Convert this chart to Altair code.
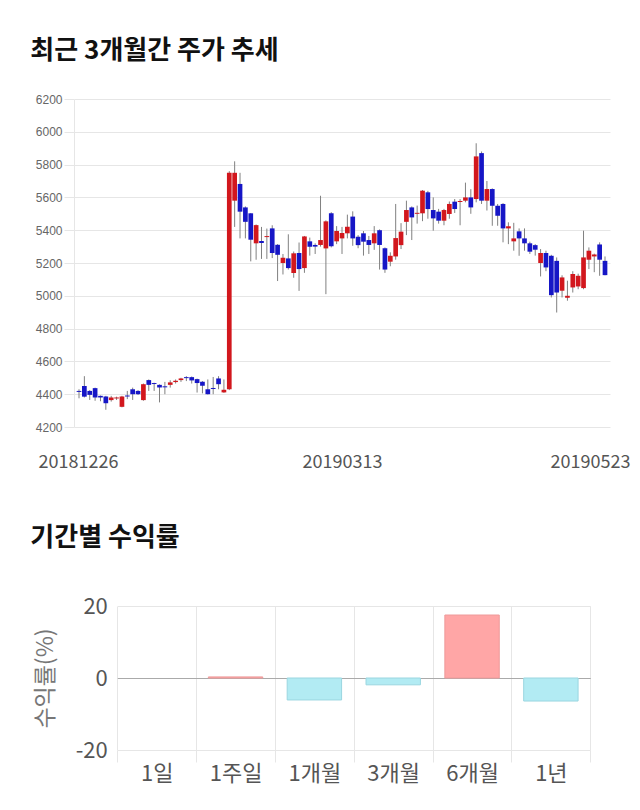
import altair as alt
import pandas as pd

# ---------------- data: candlestick (last ~5 months, daily) ----------------
opens = [4420, 4450, 4420, 4437, 4390, 4386, 4364, 4374, 4323, 4392,
         4430, 4420, 4364, 4486, 4468, 4457, 4448, 4457, 4474, 4486,
         4504, 4504, 4492, 4476, 4430, 4438, 4496, 4411, 4430, 5580,
         5682, 5539, 5503, 5320, 5334, 5358, 5411, 5311, 5200, 5228,
         5139, 5261, 5169, 5332, 5310, 5310, 5289, 5503, 5332, 5350,
         5381, 5483, 5360, 5381, 5340, 5320, 5400, 5290, 5208, 5240,
         5309, 5451, 5539, 5500, 5503, 5631, 5523, 5513, 5458, 5499,
         5574, 5572, 5580, 5600, 5590, 5870, 5580, 5651, 5549, 5560,
         5411, 5332, 5393, 5350, 5320, 5309, 5200, 5261, 5244, 5213,
         5031, 4988, 5051, 5057, 5047, 5220, 5240, 5313, 5213]
highs = [4430, 4510, 4425, 4440, 4392, 4390, 4390, 4385, 4390, 4420,
         4440, 4425, 4465, 4490, 4470, 4460, 4475, 4485, 4490, 4500,
         4510, 4508, 4495, 4480, 4490, 4505, 4510, 4490, 5760, 5820,
         5750, 5545, 5505, 5435, 5420, 5410, 5430, 5315, 5255, 5375,
         5270, 5325, 5365, 5355, 5320, 5610, 5460, 5510, 5425, 5420,
         5495, 5515, 5370, 5395, 5365, 5425, 5405, 5295, 5265, 5560,
         5443, 5580, 5545, 5550, 5645, 5640, 5600, 5530, 5530, 5575,
         5590, 5590, 5690, 5650, 5930, 5880, 5700, 5655, 5560, 5565,
         5448, 5445, 5411, 5411, 5330, 5315, 5285, 5275, 5250, 5234,
         5125, 5092, 5150, 5135, 5397, 5295, 5257, 5326, 5240]
lows = [4375, 4380, 4365, 4360, 4357, 4305, 4355, 4365, 4320, 4370,
        4365, 4395, 4360, 4420, 4420, 4350, 4400, 4440, 4465, 4475,
        4480, 4465, 4410, 4405, 4398, 4400, 4430, 4408, 4425, 5420,
        5350, 5350, 5210, 5220, 5225, 5225, 5230, 5090, 5130, 5160,
        5110, 5030, 5140, 5245, 5255, 5300, 5010, 5295, 5315, 5255,
        5350, 5305, 5290, 5245, 5255, 5280, 5160, 5140, 5180, 5220,
        5285, 5370, 5340, 5440, 5455, 5470, 5397, 5440, 5430, 5470,
        5505, 5430, 5570, 5500, 5570, 5560, 5520, 5427, 5427, 5326,
        5315, 5275, 5244, 5275, 5255, 5245, 5118, 5150, 4990, 4898,
        4990, 4970, 5020, 5040, 5040, 5163, 5144, 5122, 5125]
closes = [4414, 4385, 4396, 4380, 4380, 4345, 4380, 4380, 4386, 4386,
          4400, 4400, 4461, 4457, 4462, 4441, 4442, 4472, 4482, 4496,
          4498, 4484, 4468, 4451, 4400, 4432, 4461, 4427, 5750, 5750,
          5513, 5451, 5342, 5431, 5322, 5364, 5261, 5250, 5232, 5169,
          5259, 5163, 5362, 5299, 5300, 5340, 5454, 5302, 5395, 5383,
          5421, 5350, 5309, 5330, 5310, 5381, 5310, 5160, 5244, 5352,
          5391, 5523, 5478, 5506, 5641, 5529, 5472, 5458, 5523, 5560,
          5529, 5578, 5600, 5539, 5850, 5580, 5651, 5549, 5488, 5411,
          5424, 5350, 5350, 5320, 5269, 5281, 5261, 5173, 5004, 5020,
          5112, 5000, 5133, 5122, 5234, 5275, 5252, 5220, 5126]
x_tick_index = [0, 49, 98]
x_tick_labels = ["20181226", "20190313", "20190523"]
y_ticks = [4200, 4400, 4600, 4800, 5000, 5200, 5400, 5600, 5800, 6000, 6200]

# ---------------- data: period returns ----------------
periods = ["1일", "1주일", "1개월", "3개월", "6개월", "1년"]
returns = [0.0, 0.3, -6.1, -1.9, 17.5, -6.4]

RED, BLUE = "#D2171D", "#1616C6"
KFONT = "Noto Sans CJK KR"

df = pd.DataFrame({"i": list(range(len(opens))), "open": opens, "high": highs,
                   "low": lows, "close": closes})
df["dir"] = ["up" if c >= o else "down" for o, c in zip(opens, closes)]

label_expr = " : ".join(
    f"datum.value == {v} ? '{t}'" for v, t in zip(x_tick_index, x_tick_labels)
) + " : ''"

x_axis = alt.Axis(values=x_tick_index, labelExpr=label_expr, grid=False, ticks=False,
                  domain=False, labelPadding=26, labelFontSize=18, labelFont=KFONT,
                  labelColor="#555555", labelFlush=False, title=None,
                  labelOffset={"condition": [{"test": "datum.value == 0", "value": -1},
                                             {"test": "datum.value == 98", "value": -15}],
                               "value": 0})
y_axis = alt.Axis(values=y_ticks, format="d", labelFontSize=12, labelFont="Liberation Sans",
                  labelColor="#666666", gridColor="#e6e6e6", tickColor="#e6e6e6",
                  tickSize=10, labelPadding=2, domainColor="#e6e6e6", title=None)
x_enc = alt.X("i:Q", scale=alt.Scale(domain=[0, 98], nice=False, zero=False), axis=x_axis)
y_scale = alt.Scale(domain=[4200, 6200], nice=False, zero=False)

wicks = alt.Chart(df).mark_rule(color="#808080", strokeWidth=1, clip=True).encode(
    x=x_enc,
    y=alt.Y("low:Q", scale=y_scale, axis=y_axis),
    y2="high:Q",
)
bodies = alt.Chart(df).mark_bar(size=4.7, clip=True).encode(
    x=x_enc,
    y=alt.Y("open:Q", scale=y_scale, axis=y_axis),
    y2="close:Q",
    color=alt.Color("dir:N", scale=alt.Scale(domain=["up", "down"], range=[RED, BLUE]),
                    legend=None),
)
top = alt.layer(wicks, bodies).properties(
    width=536, height=328,
    title=alt.TitleParams("최근 3개월간 주가 추세", anchor="start", frame="group",
                          dx=-43.7, offset=29, fontSize=26, font=KFONT,
                          fontWeight="bold", color="#111111"),
)

# ---------------- bottom chart ----------------
df2 = pd.DataFrame({"period": periods, "ret": returns})
df2["sign"] = ["pos" if r >= 0 else "neg" for r in returns]

bottom = alt.Chart(df2).mark_bar(width=alt.RelativeBandSize(0.69), strokeWidth=1).encode(
    x=alt.X("period:N", sort=periods,
            scale=alt.Scale(range=[43.3, 516.3], paddingInner=0, paddingOuter=0),
            axis=alt.Axis(title=None, tickBand="extent", grid=True, gridColor="#e6e6e6",
                          ticks=True, tickSize=12, tickColor="#e6e6e6", domain=False,
                          labelAngle=0, labelFontSize=22, labelFont=KFONT,
                          labelColor="#555555", labelPadding=1)),
    y=alt.Y("ret:Q", scale=alt.Scale(domain=[-20, 20], nice=False),
            axis=alt.Axis(values=[-20, 0, 20], title="수익률(%)", titleFontSize=23,
                          labelExpr="datum.value < 0 ? '-' + abs(datum.value) : '' + datum.value",
                          titleFont=KFONT, titleFontWeight="normal", titleColor="#777777",
                          titlePadding=18, labelFontSize=22, labelFont=KFONT,
                          labelColor="#555555", grid=True,
                          gridColor={"condition": {"test": "datum.value === 0",
                                                   "value": "#aaaaaa"},
                                     "value": "#e6e6e6"},
                          ticks=False, domain=False, labelPadding=10, offset=-43.3)),
    color=alt.Color("sign:N", scale=alt.Scale(domain=["pos", "neg"],
                                              range=["#FFA6A6", "#B2EBF3"]), legend=None),
    stroke=alt.Stroke("sign:N", scale=alt.Scale(domain=["pos", "neg"],
                                                range=["#EE9A9A", "#9AD6E0"]), legend=None),
    strokeOpacity=alt.condition("datum.ret == 0", alt.value(0), alt.value(1)),
).properties(
    width=536, height=144,
    title=alt.TitleParams("기간별 수익률", anchor="start", frame="group",
                          dx=-43.7, offset=44, fontSize=26, font=KFONT,
                          fontWeight="bold", color="#111111"),
)

chart = alt.vconcat(top, bottom, spacing=54).resolve_scale(
    color="independent", stroke="independent"
).properties(
    padding={"left": 30, "top": 38, "right": 8, "bottom": 20}
).configure_view(stroke=None)

chart.save("out.html", embed_options={"renderer": "svg", "actions": False})
